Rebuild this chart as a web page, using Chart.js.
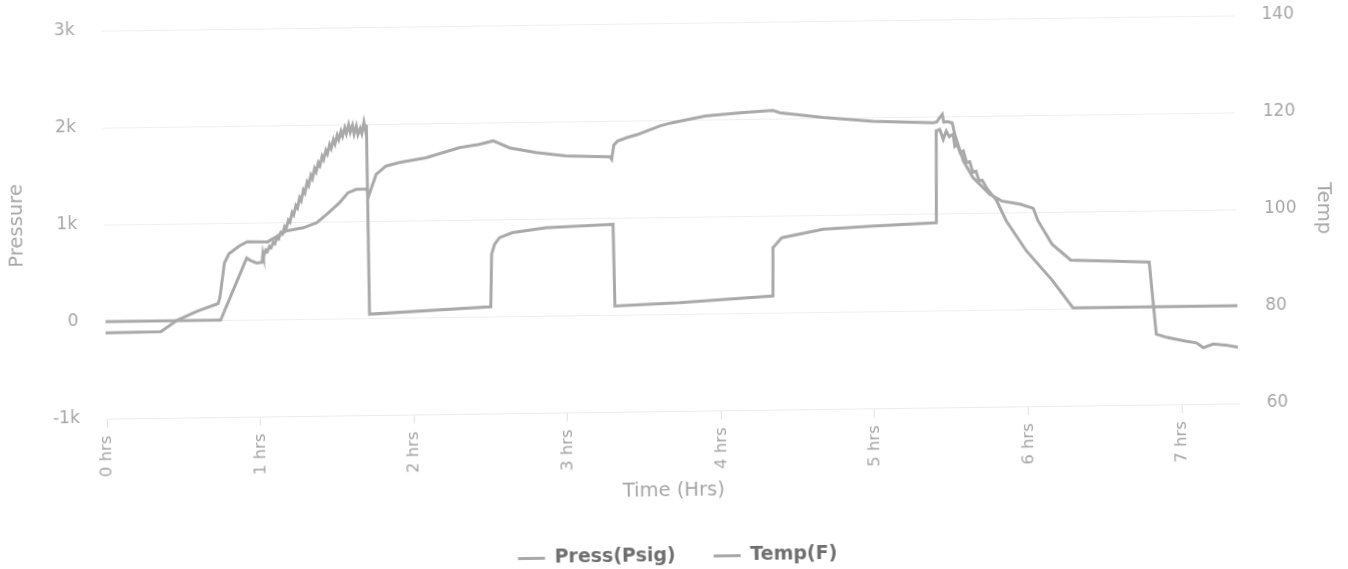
<!DOCTYPE html>
<html>
<head>
<meta charset="utf-8">
<title>Pressure / Temp</title>
<script src="https://cdn.jsdelivr.net/npm/chart.js@4.4.1/dist/chart.umd.min.js"></script>
<style>
  html, body { margin: 0; padding: 0; background: #fff; overflow: hidden; }
  /* the reference is a slightly tilted photo of the chart */
  #wrap { width: 1348px; height: 569px; transform: rotate(-0.77deg); transform-origin: 674px 284.5px; }
</style>
</head>
<body>
<div id="wrap"><canvas id="chart" width="1348" height="569"></canvas></div>
<script>
// Pressure (psig) against time in hours
const pressTime = [0, 0.75, 0.925, 0.95, 0.99, 1.025, 1.031, 1.035,
  1.05, 1.06, 1.075, 1.085, 1.10, 1.11, 1.125, 1.135, 1.15, 1.16, 1.175, 1.185,
  1.20, 1.21, 1.225, 1.235, 1.25, 1.26, 1.275, 1.285, 1.30, 1.31, 1.325, 1.335,
  1.35, 1.36, 1.375, 1.385, 1.40, 1.41, 1.425, 1.435, 1.45, 1.46, 1.475, 1.485,
  1.50, 1.51, 1.525, 1.535, 1.55, 1.56, 1.575, 1.585, 1.60, 1.61, 1.625, 1.635,
  1.65, 1.66, 1.675, 1.685, 1.70, 1.71, 1.716, 1.72,
  2.51, 2.52, 2.54, 2.572, 2.656, 2.879, 3.313, 3.318, 3.74, 4.348, 4.352,
  4.41, 4.68, 5.005, 5.418, 5.425, 5.448, 5.47, 5.49, 5.51, 5.535, 5.545,
  5.56, 5.58, 5.60, 5.62, 5.64, 5.66, 5.68, 5.70, 5.72, 5.75, 5.78, 5.81,
  5.874, 6.002, 6.17, 6.30, 7.37];
const pressPsig = [0, 0, 636, 610, 583, 590, 680, 650,
  715, 700, 755, 740, 795, 780, 845, 830, 895, 880, 955, 935,
  1020, 1000, 1100, 1075, 1170, 1145, 1250, 1220, 1330, 1300, 1410, 1375,
  1480, 1445, 1550, 1515, 1610, 1580, 1675, 1640, 1735, 1700, 1795, 1755,
  1845, 1800, 1890, 1845, 1930, 1880, 1965, 1905, 1995, 1920, 1990, 1900,
  1980, 1895, 1955, 1905, 2020, 1930, 1995, 40,
  100, 643, 743, 810, 861, 907, 933, 91, 115, 172, 670,
  771, 853, 879, 905, 1850, 1866, 1763, 1848, 1790, 1814, 1690,
  1710, 1620, 1640, 1520, 1530, 1420, 1430, 1330, 1335, 1250, 1190, 1131,
  912, 601, 290, 8, 8];

// Temperature (F) against time in hours
const tempTime = [0, 0.36, 0.467, 0.597, 0.735, 0.747, 0.78, 0.81, 0.877, 0.93,
  1.063, 1.185, 1.296, 1.384, 1.45, 1.535, 1.59, 1.645, 1.715, 1.725, 1.775,
  1.84, 1.93, 2.10, 2.32, 2.45, 2.54, 2.647, 2.82, 3.013, 3.30, 3.31, 3.325,
  3.35, 3.41, 3.48, 3.625, 3.70, 3.92, 4.147, 4.364, 4.41, 4.69, 5.015, 5.406,
  5.43, 5.445, 5.466, 5.475, 5.50, 5.53, 5.545, 5.60, 5.66, 5.768, 5.845,
  5.963, 6.05, 6.08, 6.17, 6.29, 6.80, 6.84, 6.91, 7.03, 7.10, 7.145, 7.21,
  7.30, 7.37];
const tempF = [77.7, 77.8, 80.1, 81.9, 83.4, 84.6, 91.8, 93.65, 95.2, 96.1,
  96.0, 98.2, 98.8, 99.8, 101.5, 103.9, 105.9, 106.6, 106.6, 105.2, 109.6,
  111.3, 112.0, 112.9, 114.9, 115.5, 116.2, 114.7, 113.65, 112.9, 112.6, 112.1, 115.0,
  115.8, 116.5, 117.1, 118.8, 119.4, 120.7, 121.3, 121.7, 121.2, 120.1, 119.2, 118.7,
  118.9, 119.6, 120.4, 118.8, 118.9, 118.6, 116.3, 110.7, 107.3, 103.8, 102.4,
  101.7, 100.8, 98.2, 93.3, 90.0, 89.4, 74.5, 73.8, 73.0, 72.6, 71.6, 72.3,
  72.0, 71.6];

// axis ranges
const timeRange = [0, 7.37];
const pressRange = [-1000, 3000];
const tempRange = [60, 140];

const lineGray = '#a9a9a9';
const textGray = '#a6a6a6';
const family = '"DejaVu Sans", Verdana, sans-serif';

function toPoints(xs, ys) {
  return xs.map((x, i) => ({ x: x, y: ys[i] }));
}

const ctx = document.getElementById('chart').getContext('2d');
new Chart(ctx, {
  type: 'line',
  data: {
    datasets: [{
      label: 'Press(Psig)',
      data: toPoints(pressTime, pressPsig),
      yAxisID: 'y',
      borderColor: lineGray,
      backgroundColor: lineGray,
      borderWidth: 3,
      pointRadius: 0,
      tension: 0
    }, {
      label: 'Temp(F)',
      data: toPoints(tempTime, tempF),
      yAxisID: 'y1',
      borderColor: lineGray,
      backgroundColor: lineGray,
      borderWidth: 3,
      pointRadius: 0,
      tension: 0
    }]
  },
  options: {
    responsive: false,
    animation: false,
    devicePixelRatio: 1,
    layout: { padding: { top: 23, bottom: -7, left: 0, right: 0 } },
    plugins: {
      tooltip: { enabled: false },
      legend: {
        position: 'bottom',
        labels: {
          boxWidth: 27,
          boxHeight: 3,
          padding: 38,
          color: '#6f6f6f',
          font: { family: family, size: 19, weight: 'bold' },
          // plain flat dash as the legend marker, no outline
          generateLabels: (c) => Chart.defaults.plugins.legend.labels.generateLabels(c)
            .map(item => Object.assign(item, { lineWidth: 0 }))
        }
      }
    },
    scales: {
      x: {
        type: 'linear',
        min: timeRange[0],
        max: timeRange[1],
        afterFit: (scale) => { scale.height = 98; },
        grid: { drawOnChartArea: false, tickLength: 9, color: '#e2e2e2' },
        border: { color: '#ececec' },
        ticks: {
          stepSize: 1,
          includeBounds: false,
          minRotation: 90,
          maxRotation: 90,
          padding: 8,
          color: textGray,
          font: { family: family, size: 16.5 },
          callback: (v) => v + ' hrs'
        },
        title: {
          display: true,
          text: 'Time (Hrs)',
          color: textGray,
          padding: { top: 0, bottom: 6 },
          font: { family: family, size: 19.5 }
        }
      },
      y: {
        position: 'left',
        min: pressRange[0],
        max: pressRange[1],
        afterFit: (scale) => { scale.width = 105; },
        // invisible tick marks keep the labels away from the plot
        grid: { color: '#efefef', tickLength: 27, tickColor: 'rgba(0,0,0,0)' },
        border: { display: false },
        ticks: {
          stepSize: 1000,
          padding: 0,
          color: textGray,
          font: { family: family, size: 17 },
          callback: (v) => v === 0 ? '0' : (v / 1000) + 'k'
        },
        title: {
          display: true,
          text: 'Pressure',
          color: textGray,
          padding: { top: 6, bottom: 0 },
          font: { family: family, size: 19.5 }
        }
      },
      y1: {
        position: 'right',
        min: tempRange[0],
        max: tempRange[1],
        afterFit: (scale) => { scale.width = 111; },
        grid: { drawOnChartArea: false, tickLength: 28, tickColor: 'rgba(0,0,0,0)' },
        border: { display: false },
        ticks: {
          stepSize: 20,
          padding: 0,
          color: textGray,
          font: { family: family, size: 17 }
        },
        title: {
          display: true,
          text: 'Temp',
          color: textGray,
          padding: { top: 12, bottom: 0 },
          font: { family: family, size: 19.5 }
        }
      }
    }
  }
});
</script>
</body>
</html>
